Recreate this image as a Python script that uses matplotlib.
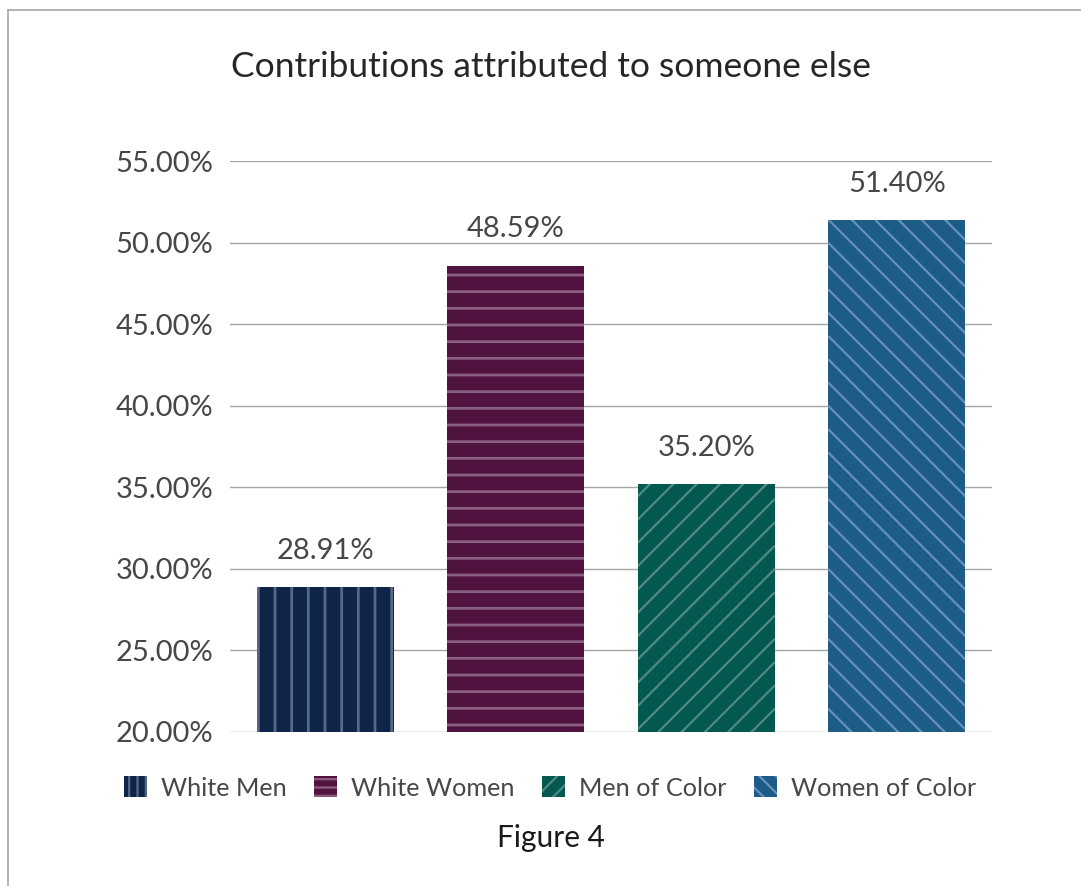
import numpy as np
import matplotlib
matplotlib.use("Agg")
import matplotlib.pyplot as plt
from matplotlib.patches import Patch
from matplotlib.collections import LineCollection
from matplotlib.transforms import IdentityTransform
from matplotlib.lines import Line2D

categories = ["White Men", "White Women", "Men of Color", "Women of Color"]
values = [28.91, 48.59, 35.20, 51.40]
yticks = [20, 25, 30, 35, 40, 45, 50, 55]

face_colors = ["#0E2548", "#50133F", "#035850", "#1E5C88"]
hatch_colors = ["#56678A", "#8A5E80", "#4F8A83", "#6690BA"]
hatches = ["|", "-", "/", "\\"]

plt.rcParams["hatch.linewidth"] = 2.0
FONT = "Lato"
W = "normal"
TXT = "#474747"

fig = plt.figure(figsize=(10.81, 8.86), dpi=100)
ax = fig.add_axes([230 / 1081, 1 - 732 / 886, (992 - 230) / 1081, (732 - 161) / 886])

x = np.arange(len(categories))
bars = []
for i, (v, fc, hc, h) in enumerate(zip(values, face_colors, hatch_colors, hatches)):
    if h in ("|", "-"):
        b = ax.bar(x[i], v - 20, bottom=20, width=0.72, color=fc, edgecolor=hc,
                   linewidth=0, hatch=h, zorder=3)
    else:
        b = ax.bar(x[i], v - 20, bottom=20, width=0.72, color=fc, linewidth=0, zorder=3)
    bars.append(b[0])

ax.set_xlim(-0.5, len(categories) - 0.5)
ax.set_ylim(20, 55)
ax.set_yticks(yticks)
ax.set_yticklabels([f"{t:.2f}%" for t in yticks], fontfamily=FONT, fontweight=W,
                   fontsize=21, color=TXT)
ax.set_xticks([])
ax.tick_params(axis="y", length=0, pad=12)
for s in ax.spines.values():
    s.set_visible(False)
ax.yaxis.grid(True, color="#A6A6A6", linewidth=1.0, zorder=0)
ax.set_axisbelow(True)

# manual diagonal hatching for the two diagonal bars (display pixels)
step = 23.3
for i, h in enumerate(hatches):
    if h not in ("/", "\\"):
        continue
    bar = bars[i]
    (px0, py0) = ax.transData.transform((bar.get_x(), bar.get_y()))
    (px1, py1) = ax.transData.transform((bar.get_x() + bar.get_width(), bar.get_y() + bar.get_height()))
    segs = []
    w = px1 - px0
    if h == "/":
        c = py0 - w
        while c < py1 + 1:
            segs.append([(px0, c), (px1, c + w)])
            c += step
    else:
        c = py0
        while c < py1 + w + 1:
            segs.append([(px0, c), (px1, c - w)])
            c += step
    lc = LineCollection(segs, colors=hatch_colors[i], linewidths=1.6,
                        transform=IdentityTransform(), zorder=4)
    ax.add_collection(lc)
    lc.set_clip_path(bar)

for i, v in enumerate(values):
    ax.annotate(f"{v:.2f}%", (x[i], v), xytext=(0, 26), textcoords="offset points",
                ha="center", va="center", fontsize=21, fontfamily=FONT,
                fontweight=W, color=TXT)

fig.text(551 / 1081, 1 - 67 / 886, "Contributions attributed to someone else",
         ha="center", va="center", fontsize=25.5, fontfamily=FONT, fontweight=W,
         color="#262626")

plt.rcParams["hatch.linewidth"] = 1.6
handles = [Patch(facecolor=fc, edgecolor=hc, linewidth=0, hatch=h * 2)
           for fc, hc, h in zip(face_colors, hatch_colors, hatches)]
leg = fig.legend(handles, categories, loc="center", bbox_to_anchor=(550 / 1081, 1 - 788 / 886),
                 ncol=4, frameon=False, handlelength=0.9, handleheight=0.9,
                 handletextpad=0.55, columnspacing=1.1,
                 prop={"family": FONT, "weight": W, "size": 18.2})
for t in leg.get_texts():
    t.set_color(TXT)

fig.text(551 / 1081, 1 - 838 / 886, "Figure 4", ha="center", va="center",
         fontsize=21.5, fontfamily=FONT, color="#1A1A1A")

fig.add_artist(Line2D([8 / 1081, 1.0], [1 - 10 / 886, 1 - 10 / 886], transform=fig.transFigure,
                      color="#A6A6A6", linewidth=1.2))
fig.add_artist(Line2D([8 / 1081, 8 / 1081], [0, 1 - 10 / 886], transform=fig.transFigure,
                      color="#A6A6A6", linewidth=1.2))

fig.savefig("out.png", dpi=100)
